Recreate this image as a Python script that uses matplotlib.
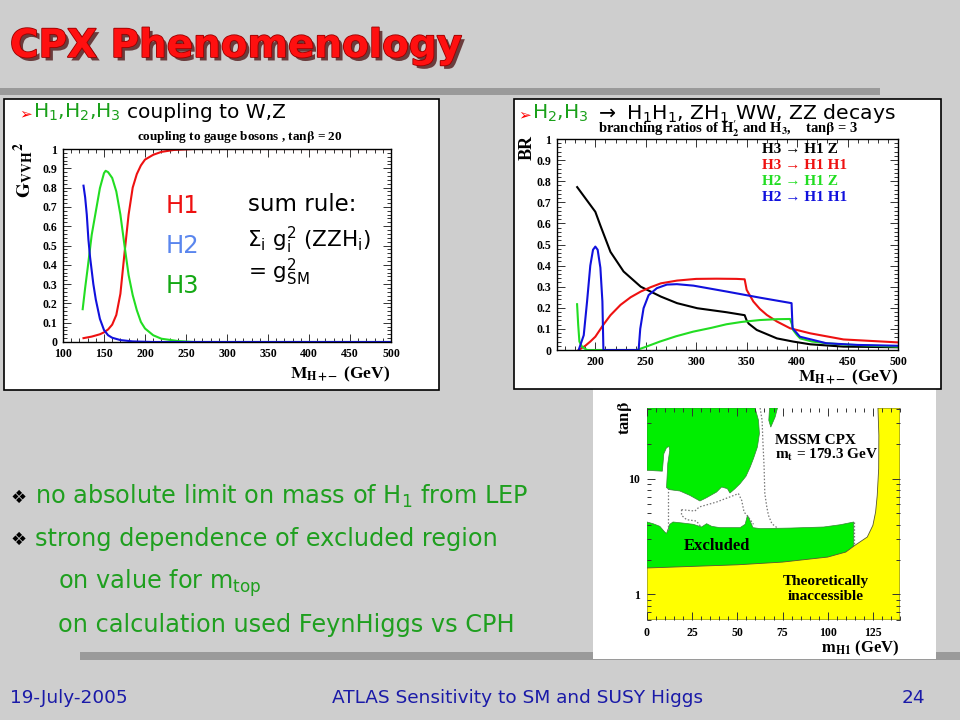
import matplotlib
matplotlib.use('Agg')
import matplotlib.pyplot as plt
from matplotlib.patches import Rectangle
from matplotlib.ticker import MultipleLocator, FixedLocator, LogLocator, NullFormatter
import matplotlib.patheffects as pe

# ---------------- data: left chart (coupling to gauge bosons) ----------------
h1_x = [125, 135, 145, 150, 155, 160, 165, 170, 175, 180, 185, 190, 195, 200, 210, 220, 235, 260, 300, 500]
h1_y = [0.02, 0.028, 0.04, 0.05, 0.065, 0.09, 0.14, 0.25, 0.46, 0.66, 0.80, 0.87, 0.915, 0.945, 0.97, 0.985, 0.995, 1.0, 1.0, 1.0]
h2_x = [125, 127, 129, 131, 133, 135, 137, 140, 145, 150, 155, 160, 170, 185, 210, 500]
h2_y = [0.81, 0.75, 0.66, 0.53, 0.44, 0.37, 0.30, 0.22, 0.12, 0.062, 0.035, 0.022, 0.01, 0.003, 0.0, 0.0]
h3_x = [124, 127, 130, 135, 140, 145, 150, 152, 155, 160, 165, 170, 175, 180, 185, 190, 195, 200, 210, 220, 240, 260, 500]
h3_y = [0.17, 0.28, 0.38, 0.555, 0.676, 0.797, 0.875, 0.887, 0.88, 0.85, 0.78, 0.66, 0.5, 0.347, 0.243, 0.165, 0.104, 0.07, 0.035, 0.017, 0.005, 0.0, 0.0]
left_xticks = [100, 150, 200, 250, 300, 350, 400, 450, 500]
left_yticks = [0, 0.1, 0.2, 0.3, 0.4, 0.5, 0.6, 0.7, 0.8, 0.9, 1]
left_yticklabels = ['0', '0.1', '0.2', '0.3', '0.4', '0.5', '0.6', '0.7', '0.8', '0.9', '1']

# ---------------- data: right chart (branching ratios) ----------------
h3z_x = [182, 190, 200, 205, 215, 228, 245, 265, 281, 301, 330, 348, 350, 352, 360, 380, 396, 413, 446, 500]
h3z_y = [0.772, 0.72, 0.655, 0.59, 0.465, 0.372, 0.30, 0.253, 0.222, 0.198, 0.179, 0.165, 0.14, 0.125, 0.095, 0.055, 0.04, 0.027, 0.016, 0.013]
h3hh_x = [183.5, 190, 195, 200, 208, 215, 225, 235, 245, 255, 265, 281, 300, 320, 340, 348, 350, 356.6, 363, 370, 380, 393, 413, 446, 500]
h3hh_y = [0, 0.02, 0.04, 0.063, 0.12, 0.165, 0.214, 0.25, 0.277, 0.298, 0.316, 0.329, 0.337, 0.338, 0.337, 0.335, 0.285, 0.23, 0.195, 0.166, 0.135, 0.103, 0.079, 0.05, 0.036]
h2z_x = [181.9, 183, 184.2, 186.8, 190, 192, 241, 250, 264, 280, 297, 315, 330, 345, 363, 380, 393, 395, 396, 400, 403, 415, 429, 450, 500]
h2z_y = [0.217, 0.12, 0.04, 0.016, 0.005, 0, 0, 0.015, 0.04, 0.065, 0.087, 0.105, 0.122, 0.133, 0.142, 0.146, 0.147, 0.12, 0.095, 0.07, 0.055, 0.04, 0.032, 0.025, 0.016]
h2hh_x = [183.5, 188.5, 191.8, 195, 197.7, 200, 202.3, 205, 207, 208, 242.9, 244.5, 247.8, 252.8, 261, 270.9, 280.8, 297.3, 330.2, 363.2, 394.5, 395.5, 402.8, 429, 460, 500]
h2hh_y = [0, 0.07, 0.23, 0.40, 0.475, 0.49, 0.475, 0.39, 0.23, 0.0, 0.0, 0.1, 0.198, 0.26, 0.293, 0.31, 0.312, 0.305, 0.277, 0.248, 0.222, 0.103, 0.063, 0.032, 0.024, 0.02]
right_xticks = [200, 250, 300, 350, 400, 450, 500]
right_yticks = left_yticks
right_yticklabels = left_yticklabels
legend_labels = ['H3 \u2192 H1 Z', 'H3 \u2192 H1 H1', 'H2 \u2192 H1 Z', 'H2 \u2192 H1 H1']

# ---------------- data: exclusion plot (mH1, tan beta) ----------------
upper_green_x = [0, 8.5, 9.3, 10.8, 12.2, 12.6, 11.5, 10.8, 12.6, 18.2, 23.7, 29.3, 33.0, 38.5, 41.3, 44.5, 45.9, 48.7, 51.5, 54.8, 57.1, 58.9, 61.1, 62.2, 61.7, 59.8, 0]
upper_green_y = [11.8, 11.6, 16.4, 18.5, 19.0, 17.6, 13.5, 8.36, 8.03, 7.82, 7.17, 6.41, 6.85, 7.66, 8.47, 8.19, 7.51, 8.19, 9.04, 10.5, 12.6, 14.9, 18.8, 24.5, 31.9, 40.8, 40.8]
sliver_x = [67.8, 72.2, 70.9, 68.5, 67.4]
sliver_y = [40.8, 40.8, 34.1, 27.9, 31.9]
lower_green_x = [0, 3.35, 7.1, 9.8, 10.8, 12.6, 14.4, 20.0, 25.6, 30.2, 33.0, 35.8, 40.4, 51.5, 54.3, 55.6, 57.1, 58.6, 62.7, 79.3, 97.8, 107.1, 114.4, 114.4, 114.4, 0]
lower_green_y = [4.22, 4.08, 3.87, 3.46, 3.35, 4.03, 4.22, 4.13, 4.03, 3.82, 4.08, 3.87, 3.77, 3.77, 4.03, 4.82, 4.30, 3.77, 3.70, 3.74, 3.82, 4.0, 4.22, 2.6, 0.6, 0.6]
theory_x = [0, 50, 75, 100, 110, 115, 121.9, 125.0, 126.5, 127.4, 128.2, 128.3, 127.8, 140, 140, 0]
theory_y = [1.69, 1.80, 1.90, 2.10, 2.32, 2.65, 3.13, 3.95, 5.15, 7.17, 12.2, 23.7, 40.8, 40.8, 0.6, 0.6]
dotA_x = [11.5, 11.5]
dotA_y = [8.36, 3.5]
dotB_x = [19.1, 26.5, 28.9, 38.5, 50.6, 52.4, 53.7, 56.1, 58.9]
dotB_y = [5.39, 5.25, 5.69, 6.28, 7.42, 6.49, 5.15, 4.66, 4.03]
dotB2_x = [19.1, 19.1, 21.9, 27.4, 29.6]
dotB2_y = [5.39, 4.82, 4.42, 4.30, 3.87]
dotC_x = [62.6, 63.7, 64.1, 64.8, 65.2, 66.3, 67.2, 69.1, 71.9]
dotC_y = [40.8, 31.9, 21.4, 12.6, 7.42, 5.69, 4.82, 4.08, 3.77]
dotD_x = [114.4, 114.4]
dotD_y = [4.22, 2.65]
br_xticks = [0, 25, 50, 75, 100, 125]
br_yticks = [1, 10]

# ---------------- figure ----------------
W, H = 960, 720
fig = plt.figure(figsize=(9.6, 7.2), dpi=100, facecolor='#cecece')

def fx(px):
    return px / W

def fy(py):
    return 1 - py / H

def box(x0, y0, x1, y1, **kw):
    fig.patches.append(Rectangle((fx(x0), fy(y1)), (x1 - x0) / W, (y1 - y0) / H,
                                 transform=fig.transFigure, figure=fig, **kw))

def T(px, py, s, **kw):
    return fig.text(fx(px), fy(py), s, **kw)

SERIF = ['Liberation Serif', 'DejaVu Serif']
SANS = ['DejaVu Sans']

# bars and white panels
box(0, 88, 880, 95, facecolor='#9a9a9a', edgecolor='none', zorder=0)
box(80, 652, 960, 660, facecolor='#9a9a9a', edgecolor='none', zorder=0)
box(4, 99, 439, 390, facecolor='white', edgecolor='black', lw=1.2, zorder=1)
box(593, 389, 936, 659, facecolor='white', edgecolor='none', zorder=1)
box(514, 99, 941, 389, facecolor='white', edgecolor='black', lw=1.2, zorder=1)

RED = '#ee1111'
GRN = '#22dd22'
BLU = '#1111dd'

def style(ax, xt, xtl, yt, ytl, xminor=None, yminor=None):
    ax.set_facecolor('white')
    ax.set_xticks(xt)
    ax.set_xticklabels(xtl, fontfamily=SERIF, fontweight='bold', fontsize=8.5)
    ax.set_yticks(yt)
    ax.set_yticklabels(ytl, fontfamily=SERIF, fontweight='bold', fontsize=8.5)
    if xminor:
        ax.xaxis.set_minor_locator(MultipleLocator(xminor))
    if yminor:
        ax.yaxis.set_minor_locator(MultipleLocator(yminor))
    ax.tick_params(which='both', direction='in', top=True, right=True, width=0.7, colors='#333333', labelcolor='black')
    ax.tick_params(which='major', length=6, pad=4)
    ax.tick_params(which='minor', length=3)
    for s in ax.spines.values():
        s.set_linewidth(1.0)

# ---------------- left chart ----------------
ax1 = fig.add_axes([fx(63), fy(342), (391 - 63) / W, (342 - 149) / H], zorder=2)
ax1.plot(h1_x, h1_y, color=RED, lw=1.5)
ax1.plot(h3_x, h3_y, color=GRN, lw=1.5)
ax1.plot(h2_x, h2_y, color=BLU, lw=1.5)
ax1.set_xlim(100, 500)
ax1.set_ylim(0, 1)
style(ax1, left_xticks, [str(v) for v in left_xticks], left_yticks, left_yticklabels, 10, 0.02)

T(240, 140, r'coupling to gauge bosons , tan$\mathbf{\beta}$ = 20', ha='center', va='baseline',
  fontfamily=SERIF, fontweight='bold', fontsize=9.5, math_fontfamily='stix', zorder=5)
T(24, 170, r'$\mathbf{G_{VVH}{}^{2}}$', rotation=90, ha='center', va='center', fontsize=14,
  math_fontfamily='stix', zorder=5)
T(390, 378, r'$\mathbf{M_{H+\!\!-}}$ (GeV)', ha='right', va='baseline', fontfamily=SERIF,
  fontweight='bold', fontsize=12.5, math_fontfamily='stix', zorder=5)

T(166, 213, 'H1', color='#ee1111', fontsize=17.5, fontfamily=SANS, va='baseline', zorder=5)
T(166, 253, 'H2', color='#5a86ee', fontsize=17.5, fontfamily=SANS, va='baseline', zorder=5)
T(166, 293, 'H3', color='#14a814', fontsize=17.5, fontfamily=SANS, va='baseline', zorder=5)
T(248, 211, 'sum rule:', color='black', fontsize=16.5, fontfamily=SANS, va='baseline', zorder=5)
T(247, 247, r'$\Sigma_{\mathrm{i}}$ g$_{\mathrm{i}}^{2}$ (ZZH$_{\mathrm{i}}$)', color='black', fontsize=15.5,
  fontfamily=SANS, va='baseline', zorder=5)
T(248, 279, r'= g$_{\mathrm{SM}}^{2}$', color='black', fontsize=15.5, fontfamily=SANS, va='baseline', zorder=5)

# ---------------- right chart ----------------
ax2 = fig.add_axes([fx(557), fy(350), (898 - 557) / W, (350 - 139) / H], zorder=2)
ax2.plot(h3z_x, h3z_y, color='black', lw=1.5)
ax2.plot(h3hh_x, h3hh_y, color=RED, lw=1.5)
ax2.plot(h2z_x, h2z_y, color=GRN, lw=1.5)
ax2.plot(h2hh_x, h2hh_y, color=BLU, lw=1.5)
ax2.set_xlim(162, 500)
ax2.set_ylim(0, 1)
style(ax2, right_xticks, [str(v) for v in right_xticks], right_yticks, right_yticklabels, 10, 0.02)

T(728, 133, r"branching ratios of H$\mathbf{_2^{\prime}}$ and H$\mathbf{_3}$,    tan$\mathbf{\beta}$ = 3",
  ha='center', va='baseline', fontfamily=SERIF, fontweight='bold', fontsize=10.5, math_fontfamily='stix', zorder=5)
T(527, 148, 'BR', rotation=90, ha='center', va='center', fontfamily=SERIF, fontweight='bold', fontsize=13, zorder=5)
T(898, 381, r'$\mathbf{M_{H+\!\!-}}$ (GeV)', ha='right', va='baseline', fontfamily=SERIF,
  fontweight='bold', fontsize=12.5, math_fontfamily='stix', zorder=5)
for i, (lab, col) in enumerate(zip(legend_labels, ['black', RED, GRN, BLU])):
    T(762, 153 + 16 * i, lab, color=col, ha='left', va='baseline', fontfamily=SERIF,
      fontweight='bold', fontsize=11, zorder=5)

# ---------------- exclusion chart ----------------
ax3 = fig.add_axes([fx(647), fy(620), (900 - 647) / W, (620 - 408) / H], zorder=2)
ax3.set_yscale('log')
ax3.set_xlim(0, 140)
ax3.set_ylim(0.6, 40.8)
ax3.fill(upper_green_x, upper_green_y, color='#00ee00', lw=0.5, ec='#338833')
ax3.fill(sliver_x, sliver_y, color='#00ee00', lw=0.5, ec='#338833')
ax3.fill(lower_green_x, lower_green_y, color='#00ee00', lw=0.5, ec='#338833')
ax3.fill(theory_x, theory_y, color='#ffff00', lw=0.6, ec='#555533')
for dx, dy in [(dotA_x, dotA_y), (dotB_x, dotB_y), (dotB2_x, dotB2_y), (dotC_x, dotC_y), (dotD_x, dotD_y)]:
    ax3.plot(dx, dy, ls=(0, (1.2, 1.5)), color='#777777', lw=0.9)
ax3.set_xticks(br_xticks)
ax3.set_xticklabels([str(v) for v in br_xticks], fontfamily=SERIF, fontweight='bold', fontsize=8.5)
ax3.xaxis.set_minor_locator(MultipleLocator(5))
ax3.yaxis.set_major_locator(FixedLocator(br_yticks))
ax3.set_yticklabels([str(v) for v in br_yticks], fontfamily=SERIF, fontweight='bold', fontsize=8.5)
ax3.yaxis.set_minor_locator(LogLocator(base=10, subs=[2, 3, 4, 5, 6, 7, 8, 9]))
ax3.yaxis.set_minor_formatter(NullFormatter())
ax3.tick_params(which='both', direction='in', top=True, right=True, width=0.7, colors='#333333', labelcolor='black')
ax3.tick_params(which='major', length=6, pad=5)
ax3.tick_params(which='minor', length=3)
for s in ax3.spines.values():
    s.set_visible(False)

T(775, 444, 'MSSM CPX', fontfamily=SERIF, fontweight='bold', fontsize=11, va='baseline', zorder=5)
T(775, 459, r'm$_{\mathbf{t}}$ = 179.3 GeV', fontfamily=SERIF, fontweight='bold', fontsize=11,
  va='baseline', math_fontfamily='stix', zorder=5)
T(684, 550, 'Excluded', fontfamily=SERIF, fontweight='bold', fontsize=12, va='baseline', zorder=5)
T(826, 585, 'Theoretically', fontfamily=SERIF, fontweight='bold', fontsize=11, va='baseline', ha='center', zorder=5)
T(826, 600, 'inaccessible', fontfamily=SERIF, fontweight='bold', fontsize=11, va='baseline', ha='center', zorder=5)
T(625, 418, r'tan$\mathbf{\beta}$', rotation=90, ha='center', va='center', fontfamily=SERIF,
  fontweight='bold', fontsize=12, math_fontfamily='stix', zorder=5)
T(900, 652, r'$\mathbf{m_{H1}}$ (GeV)', ha='right', va='baseline', fontfamily=SERIF,
  fontweight='bold', fontsize=12, math_fontfamily='stix', zorder=5)

# ---------------- slide texts ----------------
title = T(10, 57, 'CPX Phenomenology', color='#ff1010', fontsize=28, fontweight='bold',
          fontfamily=SANS, va='baseline', zorder=5)
title.set_path_effects([pe.SimplePatchShadow(offset=(2.5, -2.5), shadow_rgbFace='#400000', alpha=0.7),
                        pe.Stroke(linewidth=1.2, foreground='#990000'), pe.Normal()])

renderer = fig.canvas.get_renderer()

def rich(px, py, parts, **kw):
    x = px
    for s, c, gap, fs in parts:
        t = T(x, py, s, color=c, va='baseline', zorder=6, fontsize=fs, **kw)
        bb = t.get_window_extent(renderer=renderer)
        x = x + bb.width + gap

CAPG = '#1aa01a'
rich(19, 118, [('\u27a2', 'red', 1, 11), (r'H$_1$,H$_2$,H$_3$', CAPG, 7, 14.5), ('coupling to W,Z', 'black', 0, 14.5)],
     fontfamily=SANS)
rich(518, 119, [('\u27a2', 'red', 1, 11), (r'H$_2$,H$_3$', CAPG, 7, 14.5),
                (r'$\rightarrow$ H$_1$H$_1$, ZH$_1$ WW, ZZ decays', 'black', 0, 14.7)],
     fontfamily=SANS)

TXTG = '#1f9f1f'
FS = 17.3
bul_y = [504, 546]
bul_text = [r'no absolute limit on mass of H$_1$ from LEP', 'strong dependence of excluded region']
for yy, s in zip(bul_y, bul_text):
    T(11, yy - 1, '\u2756', fontsize=13, fontfamily=SANS, color='black', va='baseline', zorder=5)
    T(35, yy, s, fontsize=FS, fontfamily=SANS, color=TXTG, va='baseline', zorder=5)
T(58, 589, r'on value for m$_{\mathrm{top}}$', fontsize=FS, fontfamily=SANS, color=TXTG, va='baseline', zorder=5)
T(58, 632, 'on calculation used FeynHiggs vs CPH', fontsize=FS, fontfamily=SANS, color=TXTG, va='baseline', zorder=5)

FOOT = '#1a1aa8'
T(10, 703, '19-July-2005', fontsize=13.3, fontfamily=SANS, color=FOOT, va='baseline')
T(518, 703, 'ATLAS Sensitivity to SM and SUSY Higgs', fontsize=13.3, fontfamily=SANS, color=FOOT, va='baseline', ha='center')
T(913, 703, '24', fontsize=13.3, fontfamily=SANS, color=FOOT, va='baseline', ha='center')

fig.savefig('out.png', dpi=100, facecolor=fig.get_facecolor())
